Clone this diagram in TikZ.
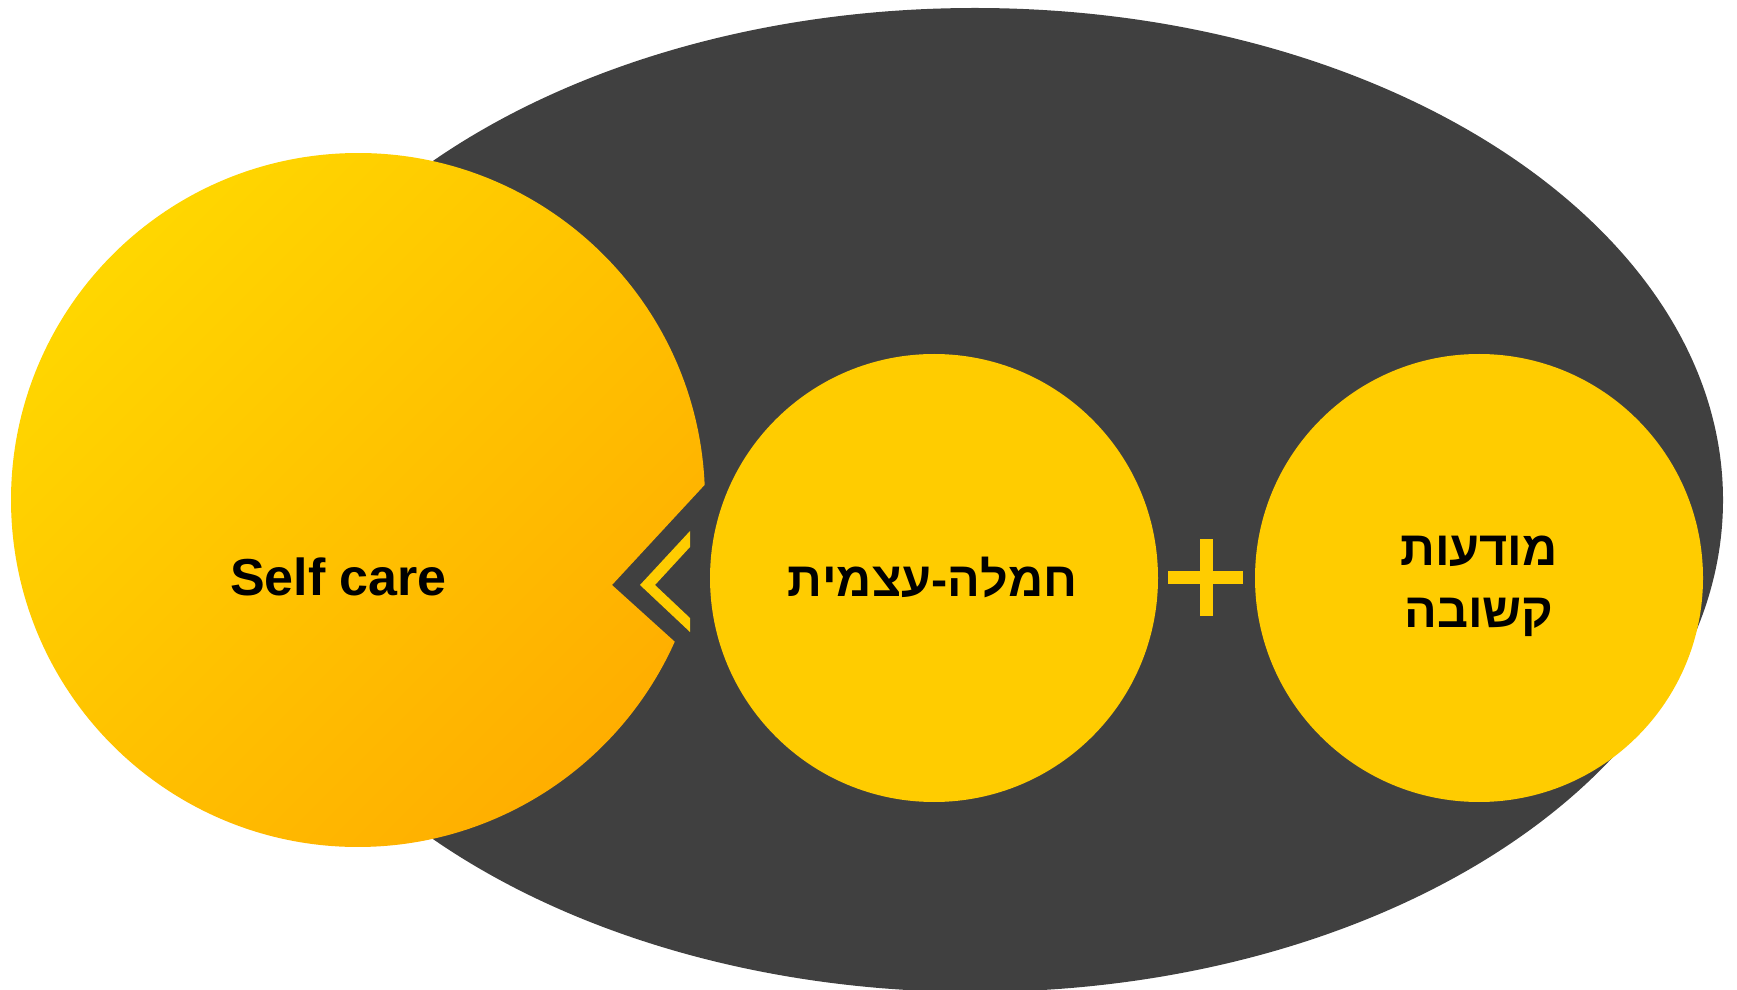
\documentclass[tikz,border=0pt]{standalone}
\usepackage{fontspec}
\setmainfont{Liberation Sans}
\newfontfamily\hebfont{Liberation Sans}
\TeXXeTstate=1
\definecolor{darkbg}{HTML}{404040}
\definecolor{gold}{HTML}{FFCC00}
\definecolor{goldA}{HTML}{FFD700}
\definecolor{goldB}{HTML}{FFAE00}
\begin{document}
\begin{tikzpicture}[x=1pt,y=1pt,
  lbl/.style={font=\fontsize{52}{62}\selectfont\bfseries, inner sep=0pt, anchor=base, text=black},
  heb/.style={lbl, font=\fontsize{48.5}{58}\selectfont\bfseries},
  disc/.style={circle, fill=gold, draw=none, inner sep=0pt, minimum size=448pt}]
\useasboundingbox (0,0) rectangle (1737,989);
% dark ellipse
\fill[darkbg] (975,489) ellipse [x radius=748, y radius=492];
% big gradient circle with notch
\shade[left color=goldA, right color=goldB, shading angle=45]
  (358,489) ++(2.5:347) arc[start angle=2.5, end angle=335.9, radius=347] -- (612,404) -- cycle;
% chevron
\fill[gold] (690,458) -- (640,404) -- (690,357) -- (690,371) -- (655,404) -- (690,442) -- cycle;
% circles
\node[disc] (mid) at (934,411) {};
\node[disc] (right) at (1479,411) {};
% plus
\fill[gold] (1168,404.5) rectangle (1243,417.5);
\fill[gold] (1199.5,373) rectangle (1212.5,450);
% texts
\node[lbl] (selfcare) at (338.5,394) {Self care};
\node[heb] (hamla) at (932.5,392) {\hebfont\beginR חמלה-עצמית\endR};
\node[heb] (mod1) at (1479,424) {\hebfont\beginR מודעות\endR};
\node[heb] (mod2) at (1479,362) {\hebfont\beginR קשובה\endR};
\end{tikzpicture}
\end{document}
